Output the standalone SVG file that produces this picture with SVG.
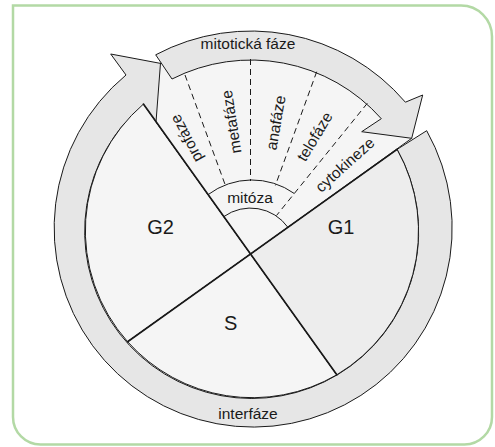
<svg xmlns="http://www.w3.org/2000/svg" width="495" height="447" viewBox="0 0 495 447">
<style>
.frame{fill:#fff;stroke:#b3d9a5;stroke-width:2.5}
.band{fill:#e6e6e6;stroke:#1a1a1a;stroke-width:1}
.light{fill:#f5f5f5;stroke:#1a1a1a;stroke-width:1}
.mid{fill:#ededed;stroke:#1a1a1a;stroke-width:1}
.div{fill:none;stroke:#1a1a1a;stroke-width:1.7;stroke-linecap:round}
.dash{fill:none;stroke:#1a1a1a;stroke-width:1;stroke-dasharray:6 4}
.arc{fill:none;stroke:#1a1a1a;stroke-width:1}
text{font-family:"Liberation Sans",Arial,sans-serif;fill:#1a1a1a}
.lbl{font-size:15.5px;text-anchor:middle}
.ph{font-size:15.5px;text-anchor:middle}
.big{font-size:20px;text-anchor:middle}
</style>
<path class="frame" d="M13,5.5 H461 A31,31 0 0 1 492,36.5 V417 A27.5,27.5 0 0 1 464.5,444.5 H40.5 A27.5,27.5 0 0 1 13,417 Z"/>
<g id="interfaze">
<path class="band" d="M397.1,149.4 L426.7,130.7 A199,199 0 1 1 126,75 L110.7,54 L185,68 L182,140 L150,140 L124.1,123.7 A167,167 0 1 0 397.1,149.4 Z"/>
<text class="lbl" x="248" y="418.5">interfáze</text>
</g>
<g id="G2">
<path class="light" d="M250.5,254 L143.4,104.1 A167,167 0 0 0 127.6,341.7 Z"/>
<text class="big" x="160.5" y="233.5">G2</text>
</g>
<g id="S">
<path class="light" d="M250.5,254 L127.6,341.7 A167,167 0 0 0 336.8,374.8 Z"/>
<text class="big" x="230.7" y="329.5">S</text>
</g>
<g id="G1">
<path class="mid" d="M250.5,254 L336.8,374.8 A167,167 0 0 0 397.1,149.4 Z"/>
<text class="big" x="341" y="233.5">G1</text>
</g>
<g id="mitoza">
<path class="light" d="M250.5,254 L156,122 L160.5,63 A192,192 0 0 1 411.7,138.3 Z"/>
</g>
<g id="mitoticka-faze">
<path class="band" d="M155.7,54.8 A203,203 0 0 1 405.4,102.2 L422.7,95 L411.7,138.3 L361.7,131.7 L381.3,118.7 A174,174 0 0 0 172,79 Z"/>
<text class="lbl" x="248" y="48.5">mitotická fáze</text>
</g>
<g id="connectors">
<line class="div" x1="143.4" y1="104.1" x2="336.8" y2="374.8"/>
<line class="div" x1="127.6" y1="341.7" x2="397.1" y2="149.4"/>
<line class="dash" x1="185" y1="75" x2="225.4" y2="185.4"/>
<line class="dash" x1="250.5" y1="59" x2="250.5" y2="181"/>
<line class="dash" x1="316.7" y1="71.7" x2="275.4" y2="185.4"/>
<line class="dash" x1="367.3" y1="103.3" x2="276.5" y2="215.5"/>
<path class="arc" d="M208.1,194.6 A73,73 0 0 1 294.3,193.5"/>
<path class="arc" d="M223.8,216.6 A46,46 0 0 1 287.9,227.3"/>
</g>
<g id="phases">
<text class="ph" transform="translate(186.7,138.3) rotate(-118)" y="5">profáze</text>
<text class="ph" transform="translate(231.7,121.7) rotate(-99)" y="5">metafáze</text>
<text class="ph" transform="translate(276,122.7) rotate(-80)" y="5">anafáze</text>
<text class="ph" transform="translate(315,136.7) rotate(-59)" y="5">telofáze</text>
<text class="ph" transform="translate(345,165) rotate(-42)" y="5">cytokineze</text>
<text class="ph" x="250" y="203">mitóza</text>
</g>
</svg>
